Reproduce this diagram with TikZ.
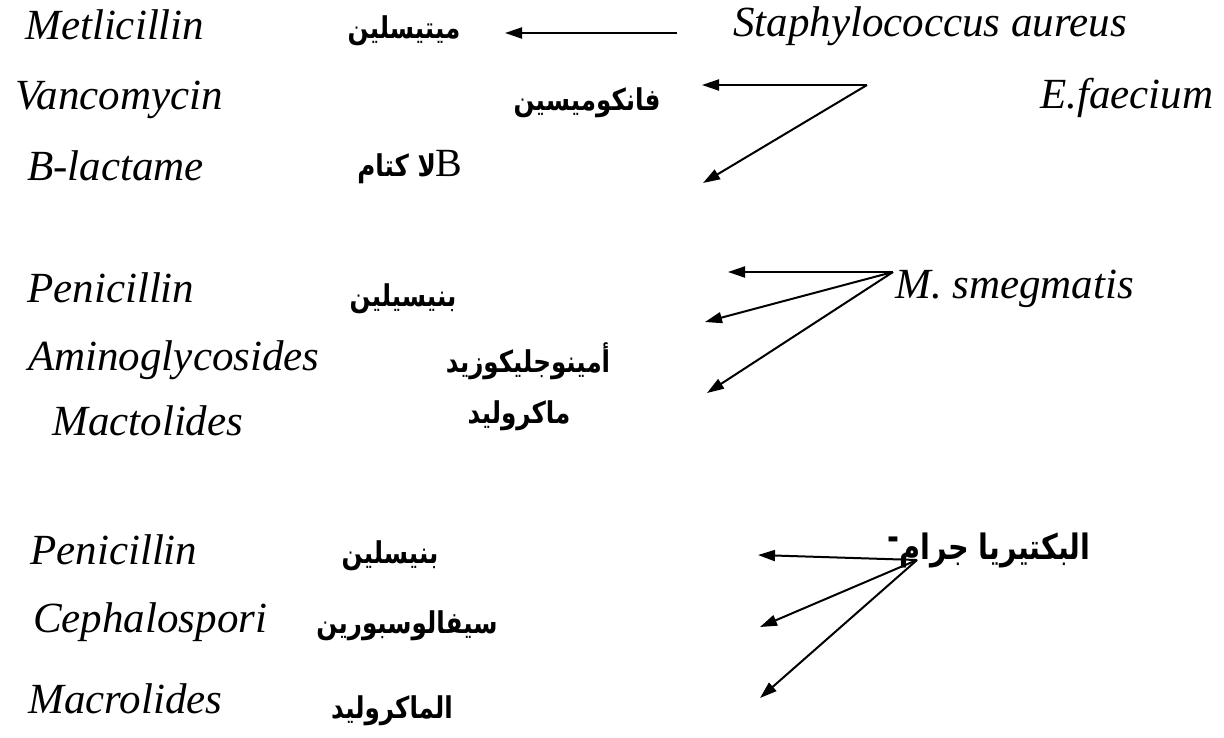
\documentclass[tikz,border=0pt]{standalone}
\usepackage{fontspec}
\setmainfont{Liberation Serif}
\newfontfamily\arabicfont[Script=Arabic,FakeStretch=0.82]{DejaVu Sans}
\usetikzlibrary{arrows.meta}
\TeXXeTstate=1

\begin{document}
\begin{tikzpicture}[x=1pt,y=-1pt,
  lat/.style={anchor=base west,inner sep=0pt,font=\fontsize{43}{50}\selectfont\itshape},
  arb/.style={inner sep=0pt,font=\fontsize{30}{36}\selectfont\arabicfont\bfseries},
  arr/.style={line width=2pt,-{Triangle[length=17pt,width=11pt]}}]
\useasboundingbox (0,0) rectangle (1224,737);

% Staphylococcus / E.faecium
\node[lat] (metl)  at (25,39)   {Metlicillin};
\node[lat] (vanc)  at (15,109)  {Vancomycin};
\node[lat] (blac)  at (27,180)  {B-lactame};
\node[arb] (metlAr) at (404,31)  {\beginR ميتيسلين\endR};
\node[arb] (vancAr) at (587,103) {\beginR فانكوميسين\endR};
\node[arb] (blacAr) at (410,167)
  {\beginR{\fontsize{40}{44}\selectfont\rmfamily\mdseries B}لا كتام\endR};
\node[lat] (staph) at (733,36)  {Staphylococcus aureus};
\node[lat] (faec)  at (1040,108) {E.faecium};

\coordinate (staphOut) at (677,33);
\coordinate (metlIn)   at (505,33);
\coordinate (faecOut)  at (867,85);
\coordinate (vancIn)   at (702,85);
\coordinate (blacIn)   at (703,183);
\draw[arr] (staphOut) -- (metlIn);
\draw[arr] (faecOut) -- (vancIn);
\draw[arr] (faecOut) -- (blacIn);

% M. smegmatis
\node[lat] (peni)  at (27,302)  {Penicillin};
\node[lat] (amin)  at (28,370)  {Aminoglycosides};
\node[lat] (mact)  at (52,435)  {Mactolides};
\node[arb] (peniAr) at (403,299) {\beginR بنيسيلين\endR};
\node[arb] (aminAr) at (528,361) {\beginR أمينوجليكوزيد\endR};
\node[arb] (mactAr) at (519,416) {\beginR ماكروليد\endR};
\node[lat] (smeg)  at (895,298) {M. smegmatis};

\coordinate (smegOut) at (893,272);
\coordinate (peniIn)  at (728,272);
\coordinate (aminIn)  at (705,322);
\coordinate (mactIn)  at (707,393);
\draw[arr] (smegOut) -- (peniIn);
\draw[arr] (smegOut) -- (aminIn);
\draw[arr] (smegOut) -- (mactIn);

% Gram negative
\node[lat] (penb)  at (30,564)  {Penicillin};
\node[lat] (ceph)  at (33,632)  {Cephalospori};
\node[lat] (macr)  at (28,713)  {Macrolides};
\node[arb] (penbAr) at (390,556) {\beginR بنيسلين\endR};
\node[arb] (cephAr) at (407,626) {\beginR سيفالوسبورين\endR};
\node[arb] (macrAr) at (392,711) {\beginR الماكروليد\endR};
\node[arb,font=\fontsize{35}{40}\selectfont\arabicfont\bfseries] (gram) at (989,550)
  {\beginR البكتيريا جرام\raisebox{0.5ex}{-}\endR};

\coordinate (gramOut) at (917,560);
\coordinate (penbIn)  at (758,555);
\coordinate (cephIn)  at (760,627);
\coordinate (macrIn)  at (760,698);
\draw[arr] (gramOut) -- (penbIn);
\draw[arr] (gramOut) -- (cephIn);
\draw[arr] (gramOut) -- (macrIn);
\end{tikzpicture}
\end{document}
